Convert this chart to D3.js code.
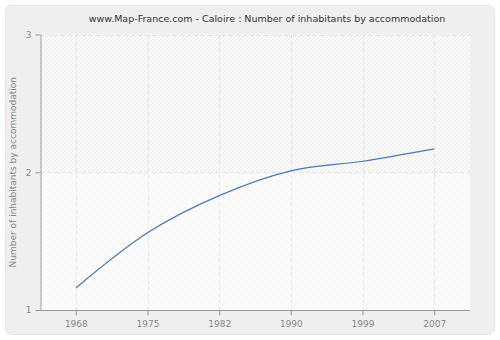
<!DOCTYPE html>
<html>
<head>
<meta charset="utf-8">
<script src="https://cdn.jsdelivr.net/npm/d3@7"></script>
<style>
  html, body { margin: 0; padding: 0; background: #ffffff; }
  svg { display: block; }
</style>
</head>
<body>
<svg id="chart" width="500" height="340"></svg>
<script>
// Census years and inhabitants per accommodation
const years = ["1968", "1975", "1982", "1990", "1999", "2007"];
const values = [1.16, 1.56, 1.83, 2.01, 2.08, 2.17];
const yTicks = [1, 2, 3];
const title = "www.Map-France.com - Caloire : Number of inhabitants by accommodation";
const yLabel = "Number of inhabitants by accommodation";

const svg = d3.select("#chart");
const W = 500, H = 340;
const m = { left: 40, right: 30, top: 34.5, bottom: 30 };

// outer panel
svg.append("rect")
  .attr("x", 5.5).attr("y", 5.5)
  .attr("width", W - 11).attr("height", H - 11)
  .attr("rx", 6).attr("ry", 6)
  .attr("fill", "#efefef")
  .attr("stroke", "#e4e4e4");

const defs = svg.append("defs");
const hatch = defs.append("pattern")
  .attr("id", "hatch")
  .attr("patternUnits", "userSpaceOnUse")
  .attr("width", 4).attr("height", 4);
hatch.append("rect").attr("width", 4).attr("height", 4).attr("fill", "#fbfbfb");
hatch.append("path")
  .attr("d", "M-1,1 l2,-2 M0,4 l4,-4 M3,5 l2,-2")
  .attr("stroke", "#e9e9e9").attr("stroke-width", 1);

const x = d3.scalePoint()
  .domain(years)
  .range([m.left, W - m.right])
  .padding(0.5);

const y = d3.scaleLinear()
  .domain([1, 3])
  .range([H - m.bottom, m.top]);

// plot background
svg.append("rect")
  .attr("x", m.left).attr("y", m.top)
  .attr("width", W - m.right - m.left)
  .attr("height", H - m.bottom - m.top)
  .attr("fill", "url(#hatch)");

// lower band is washed out
svg.append("rect")
  .attr("x", m.left).attr("y", y(2))
  .attr("width", W - m.right - m.left)
  .attr("height", y(1) - y(2))
  .attr("fill", "#ffffff")
  .attr("opacity", 0.5);

// grid
const grid = svg.append("g")
  .attr("stroke", "#e2e2e2")
  .attr("stroke-dasharray", "4,3")
  .attr("stroke-width", 1);
grid.selectAll("line.v").data(years).join("line")
  .attr("x1", d => Math.round(x(d)) + 0.5).attr("x2", d => Math.round(x(d)) + 0.5)
  .attr("y1", m.top).attr("y2", H - m.bottom);
grid.selectAll("line.h").data(yTicks.filter(d => d > 1)).join("line")
  .attr("x1", m.left).attr("x2", W - m.right)
  .attr("y1", d => Math.round(y(d)) + 0.5).attr("y2", d => Math.round(y(d)) + 0.5);

// axes
const fontFam = "'DejaVu Sans', Verdana, sans-serif";
const xAxis = svg.append("g")
  .attr("transform", `translate(0,${Math.round(y(1)) + 0.5})`)
  .call(d3.axisBottom(x).tickSize(5).tickPadding(5).tickSizeOuter(0));
const yAxis = svg.append("g")
  .attr("transform", `translate(${m.left + 0.5},0)`)
  .call(d3.axisLeft(y).tickValues(yTicks).tickFormat(d3.format("d")).tickSize(5).tickPadding(4).tickSizeOuter(0));

[xAxis, yAxis].forEach(a => {
  a.select(".domain").attr("stroke", "#999999");
  a.selectAll(".tick line").attr("stroke", "#999999");
  a.selectAll(".tick text")
    .attr("fill", "#888888")
    .style("font-family", fontFam)
    .style("font-size", "9px");
});
xAxis.select(".domain").attr("d", `M${m.left},0H${W - m.right}`);

// data line
const line = d3.line()
  .x((d, i) => x(years[i]))
  .y(d => y(d))
  .curve(d3.curveMonotoneX);
svg.append("path")
  .datum(values)
  .attr("d", line)
  .attr("fill", "none")
  .attr("stroke", "#4a78b0")
  .attr("stroke-width", 1.2);

// title
svg.append("text")
  .attr("x", 267).attr("y", 22)
  .attr("text-anchor", "middle")
  .attr("fill", "#333333")
  .style("font-family", fontFam)
  .style("font-size", "9.5px")
  .text(title);

// y-axis label
svg.append("text")
  .attr("transform", `translate(16,${(y(1) + y(3)) / 2}) rotate(-90)`)
  .attr("text-anchor", "middle")
  .attr("fill", "#888888")
  .style("font-family", fontFam)
  .style("font-size", "9px")
  .text(yLabel);
</script>
</body>
</html>
